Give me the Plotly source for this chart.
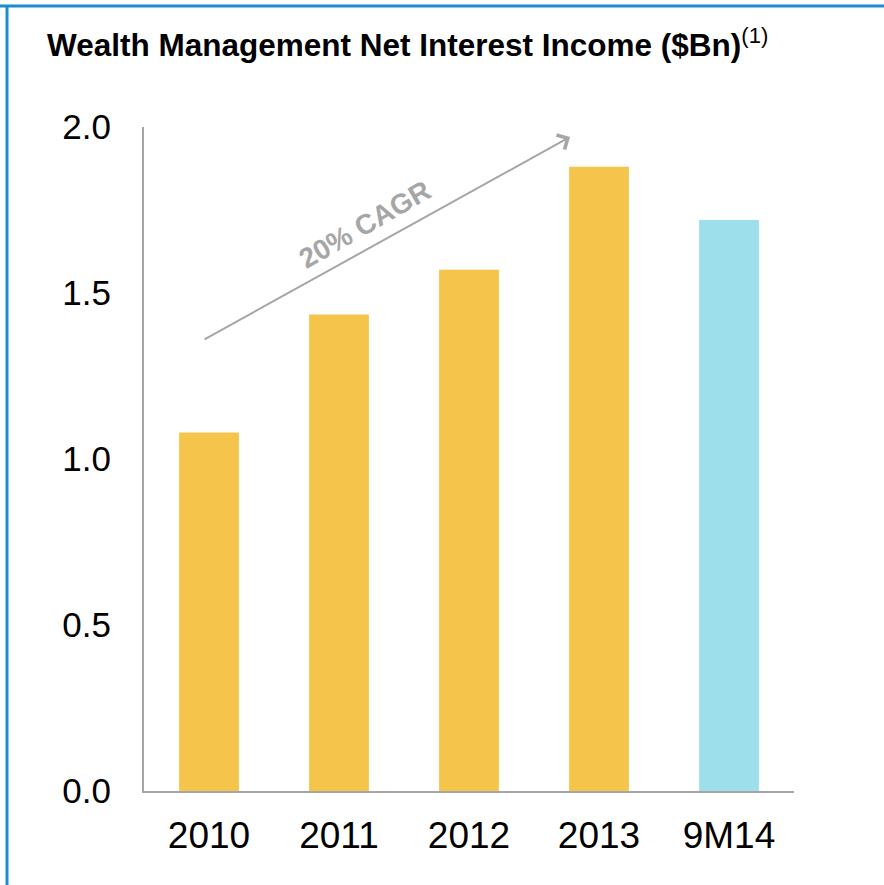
import plotly.graph_objects as go

categories = ["2010", "2011", "2012", "2013", "9M14"]
values = [1.08, 1.435, 1.57, 1.88, 1.72]
bar_colors = ["#F5C44B", "#F5C44B", "#F5C44B", "#F5C44B", "#9EDFEC"]
y_ticks = [0.0, 0.5, 1.0, 1.5, 2.0]
y_tick_labels = ["0.0", "0.5", "1.0", "1.5", "2.0"]
title_text = "<b>Wealth Management Net Interest Income ($Bn)</b><sup>(1)</sup>"
cagr_text = "<b>20% CAGR</b>"

W, H = 884, 885
L, R, T, B = 144, 90, 127, 94
pw, ph = W - L - R, H - T - B

def px_x(p):
    return (p - L) / pw

def px_y(p):
    return 1 - (p - T) / ph

fig = go.Figure()
fig.add_trace(go.Bar(
    x=categories, y=values, marker=dict(color=bar_colors, line=dict(width=0)),
    width=0.46, hoverinfo="x+y",
))

grey = "#A6A6A6"
border = "#1A8CCF"
fam = "Liberation Sans, Arial, sans-serif"

fig.update_layout(
    width=W, height=H,
    margin=dict(l=L, r=R, t=T, b=B, pad=0),
    paper_bgcolor="white", plot_bgcolor="white",
    showlegend=False,
    font=dict(family=fam, color="black"),
    xaxis=dict(
        range=[-0.5, 4.5], showgrid=False, zeroline=False,
        showline=True, linecolor=grey, linewidth=2,
        ticks="", tickfont=dict(size=37, color="black"),
        ticklabelstandoff=11,
    ),
    yaxis=dict(
        range=[0, 2.0], showgrid=False, zeroline=False,
        showline=True, linecolor=grey, linewidth=2,
        tickvals=y_ticks, ticktext=y_tick_labels,
        ticks="", tickfont=dict(size=35, color="black"),
        ticklabelstandoff=24,
    ),
    shapes=[
        dict(type="line", xref="paper", yref="paper",
             x0=px_x(0), x1=px_x(W), y0=px_y(6), y1=px_y(6),
             line=dict(color=border, width=3)),
        dict(type="line", xref="paper", yref="paper",
             x0=px_x(7), x1=px_x(7), y0=px_y(5), y1=px_y(H),
             line=dict(color=border, width=3)),
    ],
    annotations=[
        dict(text=title_text, xref="paper", yref="paper",
             x=px_x(45), y=px_y(43), xanchor="left", yanchor="middle",
             showarrow=False, font=dict(size=31.5, color="black", family=fam)),
        dict(x=2.777, y=1.97, ax=-0.046, ay=1.358, xref="x", yref="y",
             axref="x", ayref="y", text="", showarrow=True,
             arrowhead=4, arrowsize=1.6, arrowwidth=2, arrowcolor=grey),
        dict(text=cagr_text, x=1.2, y=1.705, xref="x", yref="y",
             showarrow=False, textangle=-30,
             font=dict(size=28, color=grey, family=fam)),
    ],
)

fig.write_html("out.html", config={"displayModeBar": False},
               post_script="document.body.style.margin='0';")
